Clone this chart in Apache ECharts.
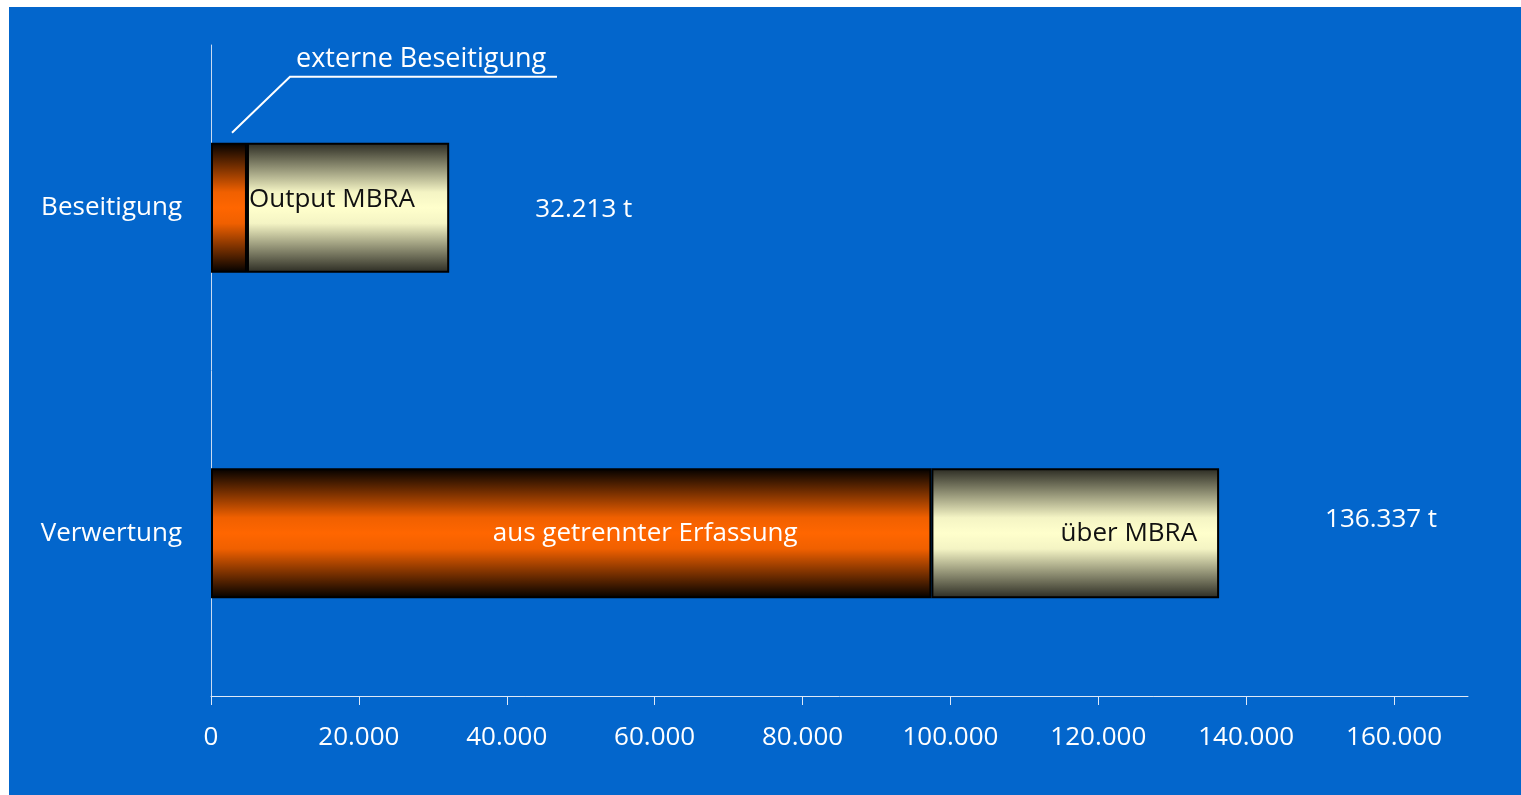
<!DOCTYPE html>
<html>
<head>
<meta charset="utf-8">
<title>Beseitigung / Verwertung</title>
<script src="https://cdn.jsdelivr.net/npm/echarts@6/dist/echarts.min.js"></script>
<style>
  html, body { margin: 0; padding: 0; background: #fff; }
  #chart { position: absolute; left: 9px; top: 7px; width: 1512px; height: 788px; background: #0366cc; }
</style>
</head>
<body>
<div id="chart"></div>
<script>
const categories = ['Beseitigung', 'Verwertung']
const orangeValues = [4865, 97430]   // externe Beseitigung / aus getrennter Erfassung
const creamValues = [27348, 38907]   // Output MBRA / über MBRA
const totals = [32213, 136337]
const xTicks = [0, 20000, 40000, 60000, 80000, 100000, 120000, 140000, 160000]

const FONT = '"Open Sans", "Noto Sans", sans-serif'
const fmt = v => String(v).replace(/\B(?=(\d{3})+(?!\d))/g, '.')

const orangeFill = new echarts.graphic.LinearGradient(0, 0, 0, 1, [
  { offset: 0, color: '#000000' },
  { offset: 0.38, color: '#f06000' },
  { offset: 0.5, color: '#ff6600' },
  { offset: 0.62, color: '#f06000' },
  { offset: 1, color: '#000000' }
])
const creamFill = new echarts.graphic.LinearGradient(0, 0, 0, 1, [
  { offset: 0, color: '#2a2a22' },
  { offset: 0.38, color: '#f4f4c4' },
  { offset: 0.5, color: '#ffffcc' },
  { offset: 0.62, color: '#f4f4c4' },
  { offset: 1, color: '#2a2a22' }
])

const chart = echarts.init(document.getElementById('chart'))

chart.setOption({
  backgroundColor: '#0366cc',
  animation: false,
  textStyle: { fontFamily: FONT },
  grid: { left: 202, right: 53, top: 38, bottom: 99 },
  xAxis: {
    type: 'value',
    min: 0,
    max: 170000,
    interval: 20000,
    axisLine: { show: true, lineStyle: { color: '#dfe9f7', width: 1 } },
    axisTick: { show: true, length: 9, lineStyle: { color: '#dfe9f7' } },
    splitLine: { show: false },
    axisLabel: {
      color: '#fff',
      fontSize: 26,
      fontFamily: FONT,
      margin: 29,
      showMaxLabel: false,
      formatter: v => xTicks.includes(v) ? fmt(v) : ''
    }
  },
  yAxis: {
    type: 'category',
    inverse: true,
    data: categories,
    axisLine: { show: true, lineStyle: { color: '#c9dbf2', width: 1 } },
    axisTick: { show: false },
    axisLabel: { color: '#fff', fontSize: 26, fontFamily: FONT, margin: 29 }
  },
  series: [
    {
      name: 'orange',
      type: 'bar',
      stack: 'total',
      barCategoryGap: '60%',
      data: orangeValues.map((v, i) => ({
        value: v,
        label: i === 1
          ? { show: true, position: 'inside', offset: [74, 0], formatter: 'aus getrennter Erfassung', color: '#fff', fontSize: 26, fontFamily: FONT }
          : { show: false }
      })),
      itemStyle: { color: orangeFill, borderColor: '#000', borderWidth: 2 }
    },
    {
      name: 'cream',
      type: 'bar',
      stack: 'total',
      barCategoryGap: '60%',
      data: creamValues.map((v, i) => ({
        value: v,
        label: i === 0
          ? { show: true, position: 'insideLeft', distance: 2, offset: [0, -8], formatter: 'Output MBRA', color: '#111', fontSize: 26, fontFamily: FONT }
          : { show: true, position: 'insideRight', distance: 22, formatter: 'über MBRA', color: '#111', fontSize: 26, fontFamily: FONT }
      })),
      itemStyle: { color: creamFill, borderColor: '#000', borderWidth: 2 }
    },
    {
      name: 'summe',
      type: 'scatter',
      symbolSize: 0,
      silent: true,
      itemStyle: { opacity: 1 },
      data: totals.map((t, i) => ({
        value: [t, categories[i]],
        label: {
          show: true,
          position: 'right',
          distance: 0,
          offset: i === 0 ? [86, 2] : [106, -14],
          formatter: fmt(t) + ' t',
          color: '#fff',
          opacity: 1,
          fontSize: 26,
          fontFamily: FONT
        }
      }))
    }
  ]
})

// Leader-Linie für "externe Beseitigung", an den ersten Balken gekoppelt
const tip = chart.convertToPixel({ gridIndex: 0 }, [orangeValues[0] / 2, categories[0]])
const knee = [tip[0] + 61, tip[1] - 131]
chart.setOption({
  graphic: [
    {
      type: 'polyline',
      shape: { points: [[tip[0] + 3, tip[1] - 75], knee, [knee[0] + 267, knee[1]]] },
      style: { stroke: '#fff', lineWidth: 2, fill: null }
    },
    {
      type: 'text',
      x: knee[0] + 6,
      y: knee[1] - 4,
      style: {
        text: 'externe Beseitigung',
        fill: '#fff',
        font: '27px ' + FONT,
        textVerticalAlign: 'bottom'
      }
    }
  ]
})
</script>
</body>
</html>
